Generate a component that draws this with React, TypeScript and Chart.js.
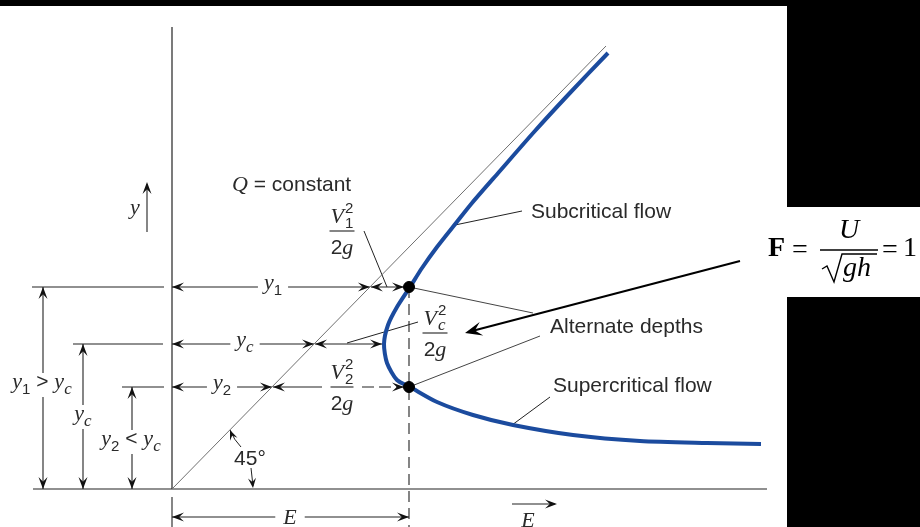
import React, { useEffect, useRef } from 'react';
import { Chart, registerables } from 'chart.js';

Chart.register(...registerables);

// Specific-energy curve E(y) (drawing units, origin at the axes' corner)
const curveE = [436, 396, 362, 327, 300, 284, 265, 250, 238, 225, 216, 212, 215, 225, 238, 265, 301, 341, 401, 468, 535, 589];
const curveY = [436, 394, 357, 317, 286, 266, 242, 221, 202, 182, 164, 145, 126, 109, 102, 87, 74, 64, 54, 48, 46, 45];
// 45° reference line (E = y)
const refE = [0, 434];
const refY = [0, 443];
// alternate depths y1 / y2 at the same energy, critical depth yc
const altPointE = [237, 237];
const altPointY = [202, 102];
const depthY1 = 202;
const depthYc = 145;
const depthY2 = 102;
const criticalE = 212;
const axisTop = 462;
const flowLabels = ['Subcritical flow', 'Alternate depths', 'Supercritical flow'];

const X_MIN = -172, X_MAX = 748, Y_MIN = -38, Y_MAX = 489;

const SANS = '"Liberation Sans", Arial, sans-serif';
const SERIF = '"Liberation Serif", "Times New Roman", serif';
const INK = '#222';
const TXT = '#2a2a2a';

type Part = { t: string; k: string; t2?: string; i2?: boolean };

const fontOf = (k: string) =>
  (({
    i: `italic 22px ${SERIF}`,
    s: `21px ${SANS}`,
    sub: `15px ${SANS}`,
    subi: `italic 17px ${SERIF}`,
    sup: `15px ${SANS}`,
    stack: `15px ${SANS}`,
  } as any)[k]);
const dyOf = (k: string) => (k === 'sub' || k === 'subi' ? 6 : k === 'sup' ? -9 : 0);

function partWidth(ctx: CanvasRenderingContext2D, p: Part) {
  ctx.font = fontOf(p.k);
  if (p.k === 'stack') {
    const a = ctx.measureText(p.t).width;
    if (p.i2) ctx.font = `italic 17px ${SERIF}`;
    const b = ctx.measureText(p.t2 || '').width;
    return Math.max(a, b) + 1;
  }
  return ctx.measureText(p.t).width;
}
function mathWidth(ctx: CanvasRenderingContext2D, parts: Part[]) {
  return parts.reduce((s, p) => s + partWidth(ctx, p), 0);
}
function drawMath(ctx: CanvasRenderingContext2D, parts: Part[], x: number, base: number, align = 'center') {
  const w = mathWidth(ctx, parts);
  let cx = align === 'center' ? x - w / 2 : x;
  ctx.textAlign = 'left';
  ctx.textBaseline = 'alphabetic';
  ctx.fillStyle = TXT;
  for (const p of parts) {
    const pw = partWidth(ctx, p);
    ctx.font = fontOf(p.k);
    if (p.k === 'stack') {
      ctx.fillText(p.t, cx + 1, base - 10);
      if (p.i2) ctx.font = `italic 17px ${SERIF}`;
      ctx.fillText(p.t2 || '', cx + 1, base + 5);
    } else {
      ctx.fillText(p.t, cx, base + dyOf(p.k));
    }
    cx += pw;
  }
  return w;
}

function head(ctx: CanvasRenderingContext2D, tx: number, ty: number, fx: number, fy: number, len = 12, half = 4.5) {
  const a = Math.atan2(ty - fy, tx - fx);
  const c = Math.cos(a), s = Math.sin(a);
  ctx.beginPath();
  ctx.moveTo(tx, ty);
  ctx.lineTo(tx - len * c + half * s, ty - len * s - half * c);
  ctx.lineTo(tx - len * 0.6 * c, ty - len * 0.6 * s);
  ctx.lineTo(tx - len * c - half * s, ty - len * s + half * c);
  ctx.closePath();
  ctx.fill();
}

const diagram = {
  id: 'diagram',
  beforeDraw(chart: any) {
    const ctx: CanvasRenderingContext2D = chart.ctx;
    const W = chart.width, H = chart.height;
    ctx.save();
    ctx.fillStyle = '#fff';
    ctx.fillRect(0, 0, W, H);
    ctx.fillStyle = '#000';
    ctx.fillRect(0, 0, W, 6);
    ctx.fillRect(787, 0, W - 787, 207);
    ctx.fillRect(787, 297, W - 787, H - 297);
    ctx.restore();
  },
  beforeDatasetsDraw(chart: any) {
    const ctx: CanvasRenderingContext2D = chart.ctx;
    const X = (e: number) => chart.scales.x.getPixelForValue(e);
    const Y = (v: number) => chart.scales.y.getPixelForValue(v);
    const e45 = (y: number) => (y * refE[1]) / refY[1];
    ctx.save();
    const line = (e1: number, y1: number, e2: number, y2: number, lw = 1, color = INK, dash: number[] = []) => {
      ctx.beginPath();
      ctx.setLineDash(dash);
      ctx.strokeStyle = color;
      ctx.lineWidth = lw;
      ctx.moveTo(X(e1), Y(y1));
      ctx.lineTo(X(e2), Y(y2));
      ctx.stroke();
      ctx.setLineDash([]);
    };
    const hd = (e: number, y: number, fe: number, fy: number, len = 12, half = 4.5) => {
      ctx.fillStyle = '#111';
      head(ctx, X(e), Y(y), X(fe), Y(fy), len, half);
    };
    const dim = (e1: number, y1: number, e2: number, y2: number) => {
      line(e1, y1, e2, y2, 1.1);
      hd(e1, y1, e2, y2);
      hd(e2, y2, e1, y1);
    };
    const blank = (cx: number, cy: number, w: number, h: number) => {
      ctx.fillStyle = '#fff';
      ctx.fillRect(cx - w / 2, cy - h / 2, w, h);
    };
    const labelMath = (parts: Part[], e: number, y: number, dyBase: number, pad = 6) => {
      const w = mathWidth(ctx, parts);
      blank(X(e), Y(y), w + pad * 2, 24);
      drawMath(ctx, parts, X(e), Y(y) + dyBase);
    };
    const frac = (cx: number, barY: number, num: Part[], den: Part[], barW: number) => {
      drawMath(ctx, num, cx, barY - 8);
      ctx.beginPath();
      ctx.strokeStyle = INK;
      ctx.lineWidth = 1.1;
      ctx.moveTo(cx - barW / 2, barY);
      ctx.lineTo(cx + barW / 2, barY);
      ctx.stroke();
      drawMath(ctx, den, cx, barY + 23);
    };

    // axes and base line
    line(0, 0, 0, axisTop, 1.2);
    line(-139, 0, 595, 0, 1.2);
    // extension lines of the depths
    line(-140, depthY1, -8, depthY1, 1.1);
    line(-99, depthYc, -9, depthYc, 1.1);
    line(-50, depthY2, -8, depthY2, 1.1);
    // vertical depth dimensions
    dim(-129, 0, -129, depthY1);
    dim(-89, 0, -89, depthYc);
    dim(-40, 0, -40, depthY2);
    labelMath([{ t: 'y', k: 'i' }, { t: '1', k: 'sub' }, { t: ' > ', k: 's' }, { t: 'y', k: 'i' }, { t: 'c', k: 'subi' }], -130, 104, 3, 2);
    labelMath([{ t: 'y', k: 'i' }, { t: 'c', k: 'subi' }], -89, 72, 3, 2);
    labelMath([{ t: 'y', k: 'i' }, { t: '2', k: 'sub' }, { t: ' < ', k: 's' }, { t: 'y', k: 'i' }, { t: 'c', k: 'subi' }], -41, 47, 3, 2);

    // y axis arrow
    line(-25, 257, -25, 305, 1.1);
    hd(-25, 307, -25, 257);
    drawMath(ctx, [{ t: 'y', k: 'i' }], X(-37), Y(279) + 4);

    // vertical dashed line at the alternate-depth energy
    line(altPointE[0], depthY1, altPointE[0], Y_MIN, 1.1, INK, [11, 6]);

    // row y1
    const a1 = e45(depthY1);
    dim(0, depthY1, a1, depthY1);
    labelMath([{ t: 'y', k: 'i' }, { t: '1', k: 'sub' }], 101, depthY1, 2);
    dim(a1 + 1, depthY1, altPointE[0] - 5, depthY1);
    // row yc
    const ac = e45(depthYc);
    dim(0, depthYc, ac, depthYc);
    labelMath([{ t: 'y', k: 'i' }, { t: 'c', k: 'subi' }], 73, depthYc, 2);
    dim(ac + 1, depthYc, criticalE - 2, depthYc);
    // row y2
    const a2 = e45(depthY2);
    dim(0, depthY2, a2, depthY2);
    labelMath([{ t: 'y', k: 'i' }, { t: '2', k: 'sub' }], 50, depthY2, 2);
    line(a2 + 1, depthY2, 150, depthY2, 1.1);
    hd(a2 + 1, depthY2, 150, depthY2);
    line(190, depthY2, altPointE[0] - 5, depthY2, 1.1, INK, [12, 5]);
    hd(altPointE[0] - 5, depthY2, 190, depthY2);

    // velocity-head fractions
    const vnum = (sub: string, it = false): Part[] => [{ t: 'V', k: 'i' }, { t: '2', k: 'stack', t2: sub, i2: it }];
    const den: Part[] = [{ t: '2', k: 's' }, { t: 'g', k: 'i' }];
    frac(X(170), Y(258), vnum('1'), den, 25);
    line(192, 258, 215, 202, 1);
    frac(X(263), Y(156), vnum('c', true), den, 25);
    line(175, 146, 246, 167, 1);
    frac(X(170), Y(depthY2), vnum('2'), den, 23);

    // Q = constant
    let qx = X(60);
    const qb = Y(305) + 7;
    qx += drawMath(ctx, [{ t: 'Q', k: 'i' }], qx, qb, 'left');
    drawMath(ctx, [{ t: ' = constant', k: 's' }], qx, qb, 'left');

    // 45° annotation
    ctx.fillStyle = TXT;
    ctx.font = `21px ${SANS}`;
    ctx.textAlign = 'center';
    ctx.textBaseline = 'alphabetic';
    ctx.fillText('45°', X(78), Y(32) + 8);
    ctx.beginPath();
    ctx.strokeStyle = INK;
    ctx.lineWidth = 1;
    ctx.moveTo(X(69), Y(42));
    ctx.quadraticCurveTo(X(62), Y(49), X(58), Y(59));
    ctx.stroke();
    hd(58, 59, 62, 49, 10, 4);
    line(79, 21, 81, 3, 1);
    hd(81, 1, 79, 21, 10, 4);

    // energy dimension at the bottom
    line(0, -8, 0, Y_MIN, 1.1);
    dim(0, -28, altPointE[0], -28);
    labelMath([{ t: 'E', k: 'i' }], 118, -28, 7, 8);
    // E direction arrow
    line(340, -15, 383, -15, 1.1);
    hd(385, -15, 340, -15, 12, 4.5);
    drawMath(ctx, [{ t: 'E', k: 'i' }], X(356), Y(-31) + 7);

    // flow labels with leader lines
    line(283, 264, 350, 278, 1);
    line(altPointE[0], altPointY[0], 361, 176, 1, '#444');
    line(altPointE[1], altPointY[1], 368, 153, 1, '#444');
    line(340, 64, 378, 92, 1);
    ctx.fillStyle = TXT;
    ctx.font = `21px ${SANS}`;
    ctx.textAlign = 'left';
    ctx.textBaseline = 'middle';
    ctx.fillText(flowLabels[0], X(359), Y(277));
    ctx.fillText(flowLabels[1], X(378), Y(162));
    ctx.fillText(flowLabels[2], X(381), Y(103));
    ctx.restore();
  },
  afterDatasetsDraw(chart: any) {
    const ctx: CanvasRenderingContext2D = chart.ctx;
    const X = (e: number) => chart.scales.x.getPixelForValue(e);
    const Y = (v: number) => chart.scales.y.getPixelForValue(v);
    ctx.save();
    // big arrow pointing to the critical point
    ctx.beginPath();
    ctx.strokeStyle = '#000';
    ctx.lineWidth = 2.2;
    ctx.moveTo(X(568), Y(228));
    ctx.lineTo(X(300), Y(158));
    ctx.stroke();
    ctx.fillStyle = '#000';
    head(ctx, X(293), Y(156), X(568), Y(228), 17, 7);

    // Froude number formula
    ctx.fillStyle = '#000';
    ctx.textAlign = 'left';
    ctx.textBaseline = 'alphabetic';
    ctx.font = `bold 28px ${SERIF}`;
    ctx.fillText('F', 768, 256);
    ctx.font = `28px ${SERIF}`;
    ctx.fillText('=', 792, 258);
    ctx.fillText('=', 882, 258);
    ctx.fillText('1', 903, 256);
    ctx.font = `italic 28px ${SERIF}`;
    ctx.textAlign = 'center';
    ctx.fillText('U', 849, 238);
    ctx.textAlign = 'left';
    ctx.fillText('gh', 843, 276);
    ctx.beginPath();
    ctx.strokeStyle = '#000';
    ctx.lineWidth = 1.4;
    ctx.moveTo(820, 250);
    ctx.lineTo(878, 250);
    ctx.stroke();
    ctx.beginPath();
    ctx.lineWidth = 1.4;
    ctx.moveTo(822, 269);
    ctx.lineTo(827, 266);
    ctx.lineTo(834, 282);
    ctx.lineTo(842, 254);
    ctx.lineTo(877, 254);
    ctx.stroke();
    ctx.restore();
  },
};

export default function App() {
  const ref = useRef<HTMLCanvasElement | null>(null);
  useEffect(() => {
    if (!ref.current) return;
    const chart = new Chart(ref.current, {
      type: 'scatter',
      data: {
        datasets: [
          {
            label: '45° line',
            data: refE.map((e, i) => ({ x: e, y: refY[i] })),
            showLine: true,
            borderColor: '#707070',
            borderWidth: 1,
            pointRadius: 0,
            order: 2,
          },
          {
            label: 'Specific energy',
            data: curveE.map((e, i) => ({ x: e, y: curveY[i] })),
            showLine: true,
            borderColor: '#1b4b9e',
            borderWidth: 4,
            pointRadius: 0,
            tension: 0.25,
            order: 1,
          },
          {
            label: 'Alternate depths',
            data: altPointE.map((e, i) => ({ x: e, y: altPointY[i] })),
            showLine: false,
            pointRadius: 5.5,
            backgroundColor: '#000',
            borderColor: '#000',
            order: 0,
          },
        ],
      },
      options: {
        responsive: false,
        animation: false,
        devicePixelRatio: 1,
        events: [],
        layout: { padding: 0, autoPadding: false },
        plugins: { legend: { display: false }, tooltip: { enabled: false }, title: { display: false } },
        scales: {
          x: { type: 'linear', display: false, min: X_MIN, max: X_MAX },
          y: { type: 'linear', display: false, min: Y_MIN, max: Y_MAX },
        },
      },
      plugins: [diagram],
    } as any);
    return () => chart.destroy();
  }, []);
  return (
    <div style={{ position: 'fixed', left: 0, top: 0, width: 920, height: 527 }}>
      <canvas ref={ref} width={920} height={527} style={{ display: 'block' }} />
    </div>
  );
}
